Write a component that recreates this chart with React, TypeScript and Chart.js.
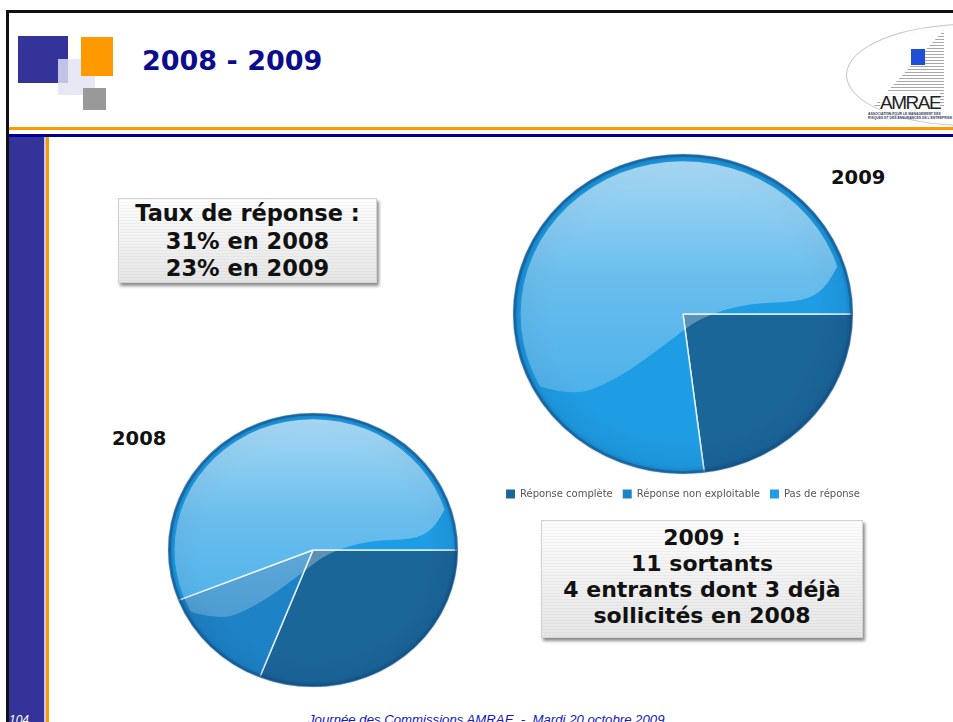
import React, { useEffect, useRef } from 'react';
import { Chart, registerables } from 'chart.js';

Chart.register(...registerables);

// ---------- data ----------
const categories = ['Réponse complète', 'Réponse non exploitable', 'Pas de réponse'];
const values2008 = [31, 13, 56];
const values2009 = [23, 0, 77];
const sliceColors = ['#1b6699', '#1d83c6', '#1f9de4'];
const yearLabels = ['2008', '2009'];
const titleText = '2008 - 2009';
const box1Lines = ['Taux de réponse :', '31% en 2008', '23% en 2009'];
const box2Lines = ['2009 :', '11 sortants', '4 entrants dont 3 déjà', 'sollicités en 2008'];
const footerText = 'Journée des Commissions AMRAE  -  Mardi 20 octobre 2009';
const pageNumber = '104';

// ---------- glossy pie look ----------
const glossCurve: [number, number][] = [
  [-0.98, 0.4],
  [-0.68, 0.53],
  [-0.39, 0.41],
  [-0.09, 0.18],
  [0.1, 0.02],
  [0.39, -0.07],
  [0.69, -0.075],
  [0.83, -0.15],
  [0.92, -0.32],
];

const glassPie = {
  id: 'glassPie',
  beforeDatasetsDraw(chart: any, _a: any, opts: any) {
    const arc: any = chart.getDatasetMeta(0).data[0];
    if (!arc) return;
    const ctx = chart.ctx;
    ctx.save();
    ctx.translate(arc.x, arc.y);
    ctx.scale(1, opts.squash || 1);
    ctx.translate(-arc.x, -arc.y);
  },
  afterDatasetsDraw(chart: any) {
    const arc: any = chart.getDatasetMeta(0).data[0];
    if (!arc) return;
    const ctx = chart.ctx;
    const x = arc.x;
    const y = arc.y;
    const R = arc.outerRadius;

    // edge shading
    const rg = ctx.createRadialGradient(x, y, R * 0.78, x, y, R);
    rg.addColorStop(0, 'rgba(0,40,90,0)');
    rg.addColorStop(0.8, 'rgba(0,40,90,0.08)');
    rg.addColorStop(1, 'rgba(0,40,90,0.3)');
    ctx.beginPath();
    ctx.arc(x, y, R, 0, Math.PI * 2);
    ctx.fillStyle = rg;
    ctx.fill();

    // gloss
    ctx.save();
    ctx.beginPath();
    ctx.arc(x, y, R * 0.955, 0, Math.PI * 2);
    ctx.clip();
    const P = glossCurve.map(([u, v]) => [x + u * R, y + v * R]);
    ctx.beginPath();
    ctx.moveTo(x - 1.3 * R, P[0][1]);
    ctx.lineTo(P[0][0], P[0][1]);
    for (let i = 1; i < P.length - 1; i++) {
      const mx = (P[i][0] + P[i + 1][0]) / 2;
      const my = (P[i][1] + P[i + 1][1]) / 2;
      ctx.quadraticCurveTo(P[i][0], P[i][1], mx, my);
    }
    const last = P[P.length - 1];
    ctx.lineTo(last[0], last[1]);
    ctx.lineTo(x + 1.3 * R, y - 0.6 * R);
    ctx.lineTo(x + 1.3 * R, y - 1.3 * R);
    ctx.lineTo(x - 1.3 * R, y - 1.3 * R);
    ctx.closePath();
    const lg = ctx.createLinearGradient(0, y - R, 0, y + 0.55 * R);
    lg.addColorStop(0, 'rgba(255,255,255,0.62)');
    lg.addColorStop(0.5, 'rgba(255,255,255,0.33)');
    lg.addColorStop(1, 'rgba(255,255,255,0.2)');
    ctx.fillStyle = lg;
    ctx.fill();
    ctx.restore();

    // rim
    ctx.beginPath();
    ctx.arc(x, y, R - 1.5, 0, Math.PI * 2);
    ctx.lineWidth = 3;
    ctx.strokeStyle = 'rgba(18,80,138,0.55)';
    ctx.stroke();

    ctx.restore();
  },
};

type PieProps = {
  values: number[];
  radius: number;
  squash: number;
  legend: boolean;
  left: number;
  top: number;
  width: number;
  height: number;
};

function GlassPie({ values, radius, squash, legend, left, top, width, height }: PieProps) {
  const ref = useRef<HTMLCanvasElement>(null);
  useEffect(() => {
    const chart = new Chart(ref.current as HTMLCanvasElement, {
      type: 'pie',
      data: {
        labels: categories,
        datasets: [
          {
            data: values,
            backgroundColor: sliceColors,
            borderColor: 'rgba(232,242,250,0.95)',
            borderWidth: 1.5,
            rotation: 90,
            radius: radius,
            clip: false,
          } as any,
        ],
      },
      options: {
        responsive: false,
        animation: false,
        events: [],
        layout: { padding: 0 },
        plugins: {
          legend: legend
            ? {
                display: true,
                position: 'bottom',
                labels: {
                  boxWidth: 9,
                  boxHeight: 9,
                  padding: 10,
                  color: '#555555',
                  font: { family: 'DejaVu Sans', size: 10 },
                  generateLabels: (c: any) => {
                    const items = (Chart as any).overrides.pie.plugins.legend.labels.generateLabels(c);
                    return items.map((it: any) => ({ ...it, lineWidth: 0 }));
                  },
                },
              }
            : { display: false },
          tooltip: { enabled: false },
          glassPie: { squash },
        } as any,
      },
      plugins: [glassPie],
    });
    return () => chart.destroy();
  }, []);
  return (
    <canvas
      ref={ref}
      width={width}
      height={height}
      style={{ position: 'absolute', left, top, width, height }}
    />
  );
}

const boxStyle: React.CSSProperties = {
  position: 'absolute',
  boxSizing: 'border-box',
  border: '1px solid #d2d2d2',
  background:
    'repeating-linear-gradient(180deg, rgba(0,0,0,0.035) 0px, rgba(0,0,0,0.035) 1px, rgba(0,0,0,0) 1px, rgba(0,0,0,0) 3px), linear-gradient(180deg, #fdfdfd 0%, #e6e6e6 100%)',
  boxShadow: '2px 3px 3px rgba(0,0,0,0.45)',
  textAlign: 'center',
  fontFamily: 'DejaVu Sans',
  fontWeight: 'bold',
  color: '#111111',
  whiteSpace: 'nowrap',
};

export default function App() {
  return (
    <div
      style={{
        position: 'absolute',
        left: 0,
        top: 0,
        width: 953,
        height: 722,
        overflow: 'hidden',
        background: '#ffffff',
        fontFamily: 'DejaVu Sans',
      }}
    >
      {/* slide frame */}
      <div style={{ position: 'absolute', left: 6, top: 10, width: 960, height: 3, background: '#111' }} />
      <div style={{ position: 'absolute', left: 6, top: 10, width: 3, height: 720, background: '#111' }} />
      <div style={{ position: 'absolute', left: 9, top: 127, width: 960, height: 2.5, background: '#ff9900' }} />
      <div style={{ position: 'absolute', left: 9, top: 134, width: 960, height: 3, background: '#000099' }} />
      <div style={{ position: 'absolute', left: 9, top: 137, width: 35, height: 600, background: '#333399' }} />
      <div style={{ position: 'absolute', left: 44, top: 137, width: 2, height: 600, background: '#c8c8ec' }} />
      <div style={{ position: 'absolute', left: 46, top: 137, width: 2.5, height: 600, background: '#ff9900' }} />

      {/* header squares */}
      <div style={{ position: 'absolute', left: 18, top: 36, width: 50, height: 47, background: '#333399' }} />
      <div style={{ position: 'absolute', left: 58, top: 59, width: 37, height: 36, background: 'rgba(226,226,244,0.82)' }} />
      <div style={{ position: 'absolute', left: 81, top: 37, width: 32, height: 39, background: '#ff9900' }} />
      <div style={{ position: 'absolute', left: 83, top: 88, width: 23, height: 22, background: '#999999' }} />

      {/* title */}
      <div
        style={{
          position: 'absolute',
          left: 142,
          top: 47,
          fontSize: 27,
          lineHeight: '27px',
          fontWeight: 'bold',
          color: '#0c0c8e',
          whiteSpace: 'nowrap',
        }}
      >
        {titleText}
      </div>

      {/* AMRAE logo */}
      <div
        style={{
          position: 'absolute',
          left: 846,
          top: 24,
          width: 240,
          height: 100,
          borderRadius: '50%',
          border: '1.5px solid #c6c6c6',
          background: 'radial-gradient(ellipse at 75% 50%, #ffffff 70%, #f0f0f0 100%)',
        }}
      />
      <div
        style={{
          position: 'absolute',
          left: 872,
          top: 30,
          width: 72,
          height: 78,
          clipPath: 'polygon(100% 0, 100% 100%, 0 100%)',
          background: 'repeating-linear-gradient(180deg, #a8a8a8 0px, #a8a8a8 1px, rgba(255,255,255,0) 1px, rgba(255,255,255,0) 3px)',
        }}
      />
      <div style={{ position: 'absolute', left: 911, top: 49, width: 14, height: 16, background: '#1e4fd6' }} />
      <div
        style={{
          position: 'absolute',
          left: 880,
          top: 93,
          fontFamily: 'Liberation Sans',
          fontSize: 19,
          lineHeight: '19px',
          letterSpacing: -1.5,
          color: '#222',
          background: 'rgba(255,255,255,0.85)',
          whiteSpace: 'nowrap',
        }}
      >
        AMRAE
      </div>
      <div
        style={{
          position: 'absolute',
          left: 868,
          top: 112,
          fontFamily: 'Liberation Sans',
          fontSize: 3.4,
          lineHeight: '4px',
          fontWeight: 'bold',
          color: '#34406a',
          whiteSpace: 'nowrap',
        }}
      >
        ASSOCIATION POUR LE MANAGEMENT DES
        <br />
        RISQUES ET DES ASSURANCES DE L'ENTREPRISE
      </div>

      {/* text box 1 */}
      <div style={{ ...boxStyle, left: 118, top: 198, width: 259, height: 85, paddingTop: 1, fontSize: 22.5, lineHeight: '27.5px' }}>
        {box1Lines.map((l) => (
          <div key={l}>{l}</div>
        ))}
      </div>

      {/* text box 2 */}
      <div style={{ ...boxStyle, left: 541, top: 520, width: 322, height: 118, paddingTop: 4, fontSize: 22, lineHeight: '26px' }}>
        {box2Lines.map((l) => (
          <div key={l}>{l}</div>
        ))}
      </div>

      {/* year labels */}
      <div style={{ position: 'absolute', left: 112, top: 429, fontSize: 19.5, lineHeight: '20px', fontWeight: 'bold', color: '#111' }}>
        {yearLabels[0]}
      </div>
      <div style={{ position: 'absolute', left: 831, top: 168, fontSize: 19.5, lineHeight: '20px', fontWeight: 'bold', color: '#111' }}>
        {yearLabels[1]}
      </div>

      {/* charts */}
      <GlassPie values={values2009} radius={170} squash={0.941} legend={true} left={463} top={149} width={440} height={360} />
      <GlassPie values={values2008} radius={145} squash={0.945} legend={false} left={148} top={400} width={330} height={300} />

      {/* footer */}
      <div
        style={{
          position: 'absolute',
          left: 308,
          top: 713,
          fontFamily: 'Liberation Sans',
          fontStyle: 'italic',
          fontSize: 13.2,
          lineHeight: '13px',
          color: '#1515c0',
          whiteSpace: 'pre',
        }}
      >
        {footerText}
      </div>
      <div
        style={{
          position: 'absolute',
          left: 9,
          top: 714,
          fontFamily: 'Liberation Sans',
          fontStyle: 'italic',
          fontSize: 12,
          lineHeight: '12px',
          color: '#ffffff',
        }}
      >
        {pageNumber}
      </div>
    </div>
  );
}
